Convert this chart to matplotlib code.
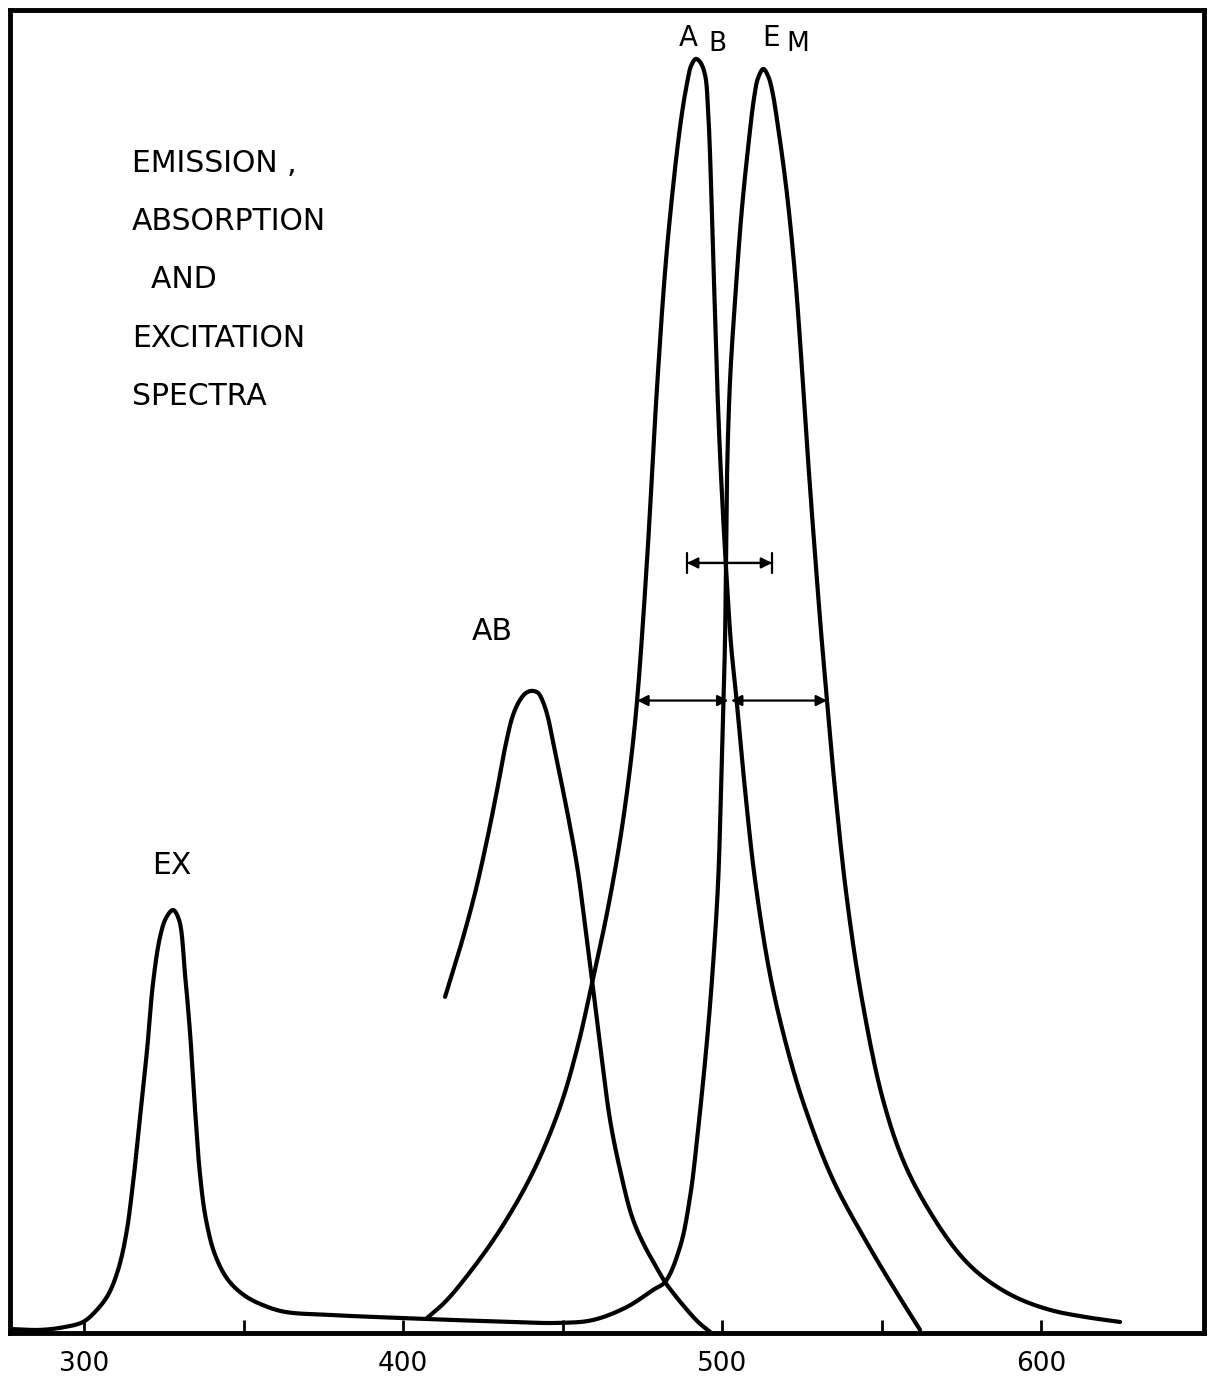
import numpy as np
import matplotlib.pyplot as plt

# wavelength (nm) / relative intensity (0 = baseline, 100 = top of frame)
# excitation curve, its tail runs on into the emission band
ex_em_nm = [276.80, 286.21, 294.04, 299.69, 303.45, 307.52, 310.66, 313.17, 315.36, 317.55,
            319.75, 321.63, 323.82, 325.71, 327.90, 329.78, 331.66, 333.23, 334.80, 336.36,
            338.24, 341.07, 345.14, 350.47, 356.74, 363.01, 377.12, 399.06, 424.14, 449.22,
            459.56, 470.22, 478.37, 482.13, 486.83, 489.97, 492.48, 495.30, 497.18, 498.75,
            499.69, 500.47, 500.94, 501.25, 501.57, 502.51, 504.08, 506.11, 508.15, 510.03,
            511.29, 512.95, 514.42, 515.67, 517.55, 520.28, 522.88, 525.08, 526.96, 529.15,
            531.19, 532.92, 535.42, 539.18, 543.89, 550.47, 557.37, 566.14, 574.61, 581.82,
            591.85, 602.82, 613.79, 624.76]
ex_em_int = [0.30, 0.23, 0.45, 0.83, 1.59, 2.87, 4.76, 7.41, 11.34, 16.33,
             21.39, 26.46, 29.93, 31.37, 31.97, 31.22, 27.06, 22.68, 16.86, 11.94,
             8.54, 5.90, 4.01, 2.80, 2.04, 1.59, 1.36, 1.13, 0.91, 0.76,
             0.98, 1.97, 3.25, 3.85, 6.50, 10.28, 15.34, 22.15, 27.82, 34.01,
             41.04, 47.77, 52.53, 58.43, 65.00, 72.03, 78.08, 84.66, 89.57, 93.35,
             94.86, 95.54, 95.01, 93.95, 91.16, 86.24, 79.97, 72.79, 65.99, 58.81,
             52.53, 47.77, 41.04, 32.73, 25.17, 17.61, 12.70, 8.77, 5.90, 4.23,
             2.72, 1.74, 1.21, 0.83]

# small absorption band
ab_small_nm = [413.17, 417.87, 422.57, 426.65, 429.78, 432.29, 434.48, 436.68, 438.56, 440.44,
               442.32, 443.89, 445.45, 447.02, 449.22, 451.41, 454.55, 457.05, 459.25, 461.76,
               464.89, 468.03, 471.79, 475.24, 479.00, 482.13, 485.89, 489.03, 492.48, 496.24]
ab_small_int = [25.40, 29.10, 33.26, 37.64, 41.42, 44.60, 46.71, 47.85, 48.38, 48.53,
                48.38, 47.69, 46.49, 44.67, 42.10, 39.46, 35.30, 30.84, 26.68, 21.77,
                16.10, 12.32, 8.77, 6.80, 5.14, 3.85, 2.65, 1.74, 0.83, 0.08]

# main absorption band
ab_big_nm = [407.52, 413.17, 420.06, 430.41, 440.75, 449.22, 454.86, 459.25, 463.95, 468.03,
             471.16, 473.35, 476.49, 479.62, 482.76, 486.83, 489.03, 490.28, 491.76, 493.10,
             494.67, 495.61, 496.24, 496.87, 497.65, 498.43, 499.37, 500.47, 501.57, 502.82,
             504.55, 507.21, 510.34, 515.05, 520.38, 526.02, 534.80, 545.45, 554.23, 562.07]
ab_big_int = [1.13, 2.34, 4.31, 7.79, 12.17, 17.08, 21.77, 26.46, 31.75, 37.26,
              42.71, 47.77, 58.43, 71.50, 82.01, 91.16, 94.48, 95.77, 96.30, 96.07,
              95.09, 92.44, 89.04, 84.13, 78.08, 72.03, 66.36, 61.07, 56.54, 52.00,
              47.85, 41.04, 34.24, 27.06, 21.54, 17.01, 11.56, 6.80, 3.25, 0.23]

major_ticks = [300, 400, 500, 600]
minor_ticks = [350, 450, 550]

title_lines = ['EMISSION ,', 'ABSORPTION', '  AND', 'EXCITATION', 'SPECTRA']


def smooth(xs, ys, n=16):
    # centripetal catmull-rom, done in roughly pixel-shaped units
    sx, sy = 3.19, 13.23
    p = np.column_stack([np.asarray(xs) * sx, np.asarray(ys) * sy])
    p = np.vstack([2 * p[0] - p[1], p, 2 * p[-1] - p[-2]])
    out = []
    for i in range(1, len(p) - 2):
        P0, P1, P2, P3 = p[i - 1], p[i], p[i + 1], p[i + 2]
        t0 = 0.0
        t1 = t0 + np.linalg.norm(P1 - P0) ** 0.5 + 1e-9
        t2 = t1 + np.linalg.norm(P2 - P1) ** 0.5 + 1e-9
        t3 = t2 + np.linalg.norm(P3 - P2) ** 0.5 + 1e-9
        t = np.linspace(t1, t2, n, endpoint=False)[:, None]
        A1 = (t1 - t) / (t1 - t0) * P0 + (t - t0) / (t1 - t0) * P1
        A2 = (t2 - t) / (t2 - t1) * P1 + (t - t1) / (t2 - t1) * P2
        A3 = (t3 - t) / (t3 - t2) * P2 + (t - t2) / (t3 - t2) * P3
        B1 = (t2 - t) / (t2 - t0) * A1 + (t - t0) / (t2 - t0) * A2
        B2 = (t3 - t) / (t3 - t1) * A2 + (t - t1) / (t3 - t1) * A3
        C = (t2 - t) / (t2 - t1) * B1 + (t - t1) / (t2 - t1) * B2
        out.append(C)
    out.append(p[-2][None, :])
    out = np.vstack(out)
    return out[:, 0] / sx, out[:, 1] / sy


fig = plt.figure(figsize=(12.1, 13.81), dpi=100)
ax = fig.add_axes([0.0083, 0.0348, 0.9868, 0.958])

for xs, ys in [(ex_em_nm, ex_em_int), (ab_small_nm, ab_small_int), (ab_big_nm, ab_big_int)]:
    sx_, sy_ = smooth(xs, ys)
    ax.plot(sx_, sy_, color='black', lw=3.0, solid_capstyle='round')

ax.set_xlim(276.8, 651.1)
ax.set_ylim(0, 100)

# width arrows
arr = dict(color='black', lw=1.6, mutation_scale=16, shrinkA=0, shrinkB=0)
ax.annotate('', xy=(515.7, 58.2), xytext=(489.0, 58.2),
            arrowprops=dict(arrowstyle='<|-|>', **arr))
ax.annotate('', xy=(515.7, 58.2), xytext=(489.0, 58.2),
            arrowprops=dict(arrowstyle='|-|, widthA=0.45, widthB=0.45', **arr))
ax.annotate('', xy=(502.0, 47.8), xytext=(473.4, 47.8),
            arrowprops=dict(arrowstyle='<|-|>', **arr))
ax.annotate('', xy=(532.9, 47.8), xytext=(502.8, 47.8),
            arrowprops=dict(arrowstyle='<|-|>', **arr))

# labels
fs = 21.5
for i, line in enumerate(title_lines):
    ax.text(315.0, 88.4 - i * 4.4, line, fontsize=fs, va='center', ha='left')
ax.text(327.6, 35.3, 'EX', fontsize=fs, ha='center', va='center')
ax.text(427.9, 53.0, 'AB', fontsize=fs, ha='center', va='center')
ax.text(489.3, 97.9, 'A', fontsize=20, ha='center', va='center')
ax.text(498.4, 97.4, 'B', fontsize=19, ha='center', va='center')
ax.text(515.5, 97.9, 'E', fontsize=20, ha='center', va='center')
ax.text(523.8, 97.4, 'M', fontsize=19, ha='center', va='center')

ax.set_xticks(major_ticks)
ax.set_xticklabels([str(t) for t in major_ticks], fontsize=19)
ax.set_xticks(minor_ticks, minor=True)
ax.tick_params(axis='x', which='both', direction='in', length=9.5, width=2, pad=13)
ax.set_yticks([])
for s in ax.spines.values():
    s.set_linewidth(3.5)

fig.savefig('out.png', dpi=100)
